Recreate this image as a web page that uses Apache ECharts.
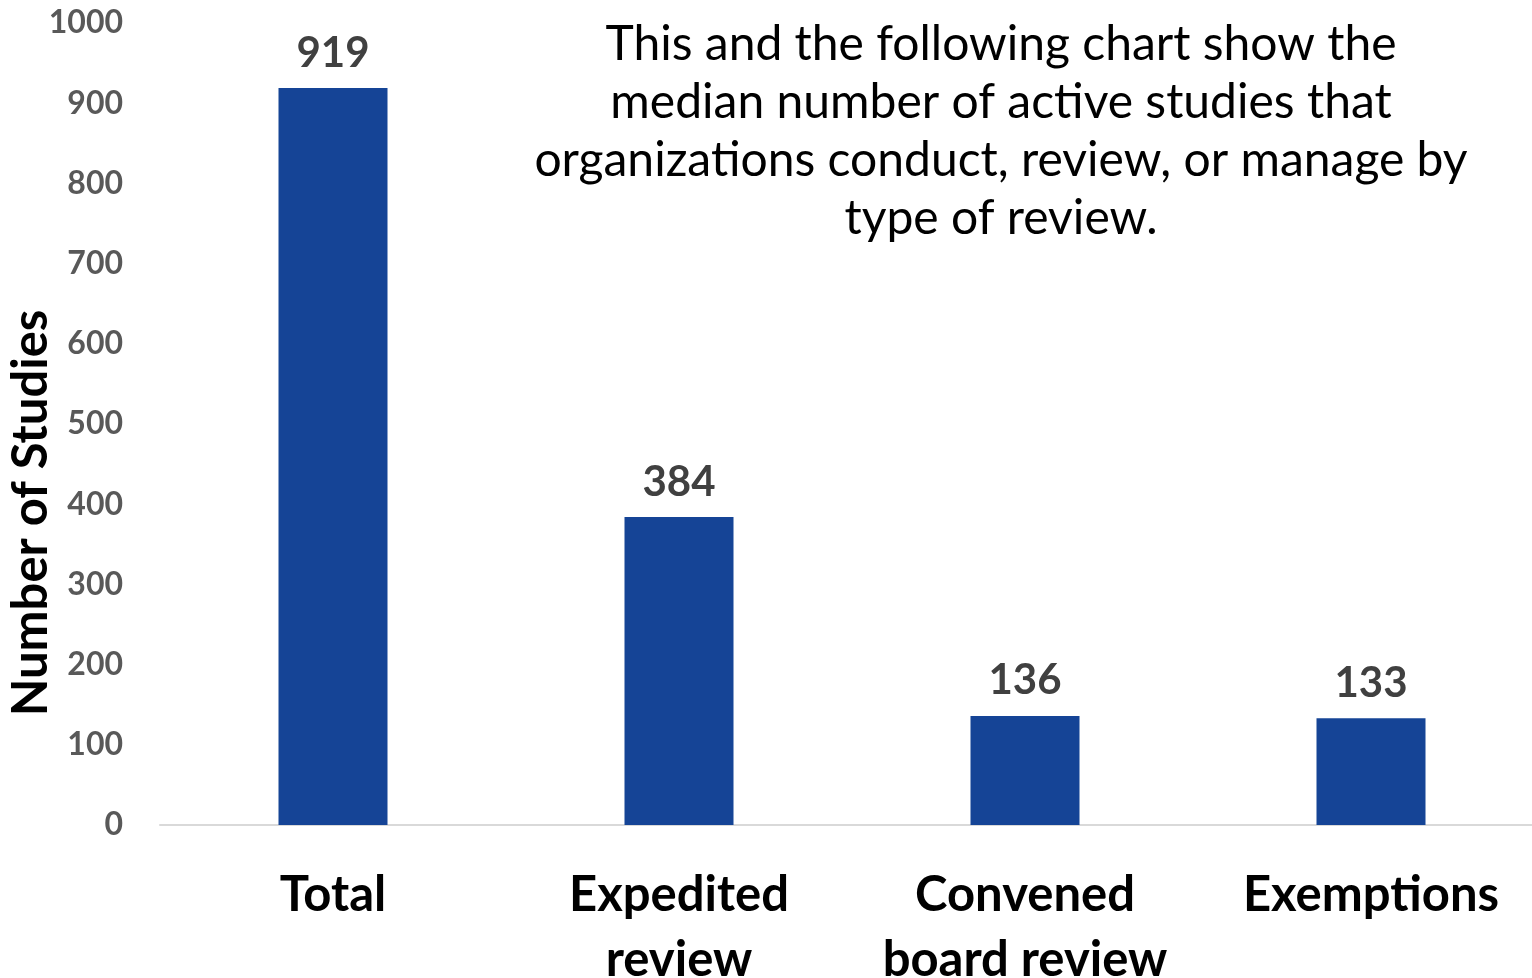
<!DOCTYPE html>
<html lang="en">
  <head>
    <meta charset="UTF-8" />
    <title>median active studies</title>
    <style>
      html,
      body {
        margin: 0;
        padding: 0;
        background: #ffffff;
      }
      #chart {
        width: 1532px;
        height: 978px;
      }
    </style>
  </head>
  <body>
    <div id="chart"></div>
    <script src="https://cdn.jsdelivr.net/npm/echarts@6/dist/echarts.min.js"></script>
    <script>
      // data
      const categories = ["Total", "Expedited\nreview", "Convened\nboard review", "Exemptions"];
      const studies = [919, 384, 136, 133];
      const note = [
        "This and the following chart show the",
        "median number of active studies that",
        "organizations conduct, review, or manage by",
        "type of review.",
      ];

      const font = "Lato, 'Open Sans', sans-serif";
      let mchart = echarts.init(document.getElementById("chart"));
      let option = {
        animation: false,
        grid: {
          left: 160,
          right: -12,
          top: 23,
          bottom: 153,
          containLabel: false,
          outerBoundsMode: "none",
        },
        graphic: [
          {
            type: "text",
            x: 1001,
            y: 16,
            style: {
              text: note.join("\n"),
              align: "center",
              font: "48px " + font,
              lineHeight: 58,
              fill: "#000000",
            },
          },
        ],
        xAxis: {
          type: "category",
          data: categories,
          axisLine: { lineStyle: { color: "#d9d9d9", width: 2 } },
          axisTick: { show: false },
          axisLabel: {
            margin: 38,
            fontFamily: font,
            fontWeight: "bold",
            fontSize: 49,
            lineHeight: 65,
            color: "#000000",
            interval: 0,
          },
        },
        yAxis: {
          type: "value",
          min: 0,
          max: 1000,
          interval: 100,
          name: "Number of Studies",
          nameLocation: "middle",
          nameMoveOverlap: false,
          nameGap: 104,
          nameTextStyle: {
            fontFamily: font,
            fontWeight: "bold",
            fontSize: 49,
            color: "#000000",
            padding: [0, 178, 0, 0],
          },
          splitLine: { show: false },
          axisLine: { show: false },
          axisLabel: {
            margin: 37,
            fontFamily: font,
            fontWeight: "bold",
            fontSize: 32,
            color: "#595959",
            formatter: (v) => String(v),
          },
        },
        series: [
          {
            type: "bar",
            data: studies,
            barWidth: 109,
            itemStyle: { color: "#154496" },
            label: {
              show: true,
              position: "top",
              distance: 14,
              fontFamily: font,
              fontWeight: "bold",
              fontSize: 42,
              color: "#404040",
            },
          },
        ],
      };
      mchart.setOption(option);
    </script>
  </body>
</html>
